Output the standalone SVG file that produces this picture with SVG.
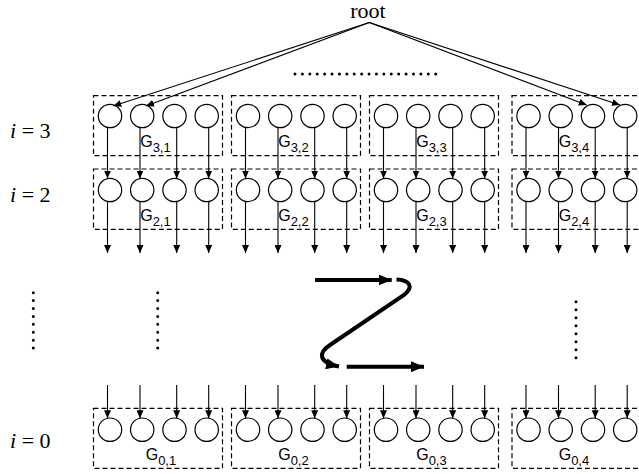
<svg xmlns="http://www.w3.org/2000/svg" width="639" height="474" viewBox="0 0 639 474">
<defs>
<marker id="ah" markerUnits="userSpaceOnUse" markerWidth="8" markerHeight="7" refX="8" refY="3.5" orient="auto"><path d="M0,0 L8,3.5 L0,7 z" fill="#000"/></marker>
<marker id="big" markerUnits="userSpaceOnUse" markerWidth="13" markerHeight="11" refX="13" refY="5.5" orient="auto"><path d="M0,0 L13,5.5 L0,11 z" fill="#000"/></marker>
<style>
.box{fill:none;stroke:#000;stroke-width:1.2;stroke-dasharray:5,3}
.c{fill:#fff;stroke:#000;stroke-width:1.2}
.ln{stroke:#000;stroke-width:1.1;fill:none;marker-end:url(#ah)}
.thick{stroke:#000;stroke-width:4;fill:none;marker-end:url(#big)}
.g{font-family:"Liberation Sans",Arial,sans-serif;font-size:16px;fill:#000}
.s{font-size:13px}
.lab{font-family:"Liberation Serif","Times New Roman",serif;font-size:22px;fill:#000}
.dots{stroke:#000;stroke-width:3;stroke-linecap:round;fill:none}
</style>
</defs>
<rect width="639" height="474" fill="#fff"/>
<text class="lab" x="368" y="18.2" text-anchor="middle" font-size="19">root</text>
<text class="lab" x="10" y="137.7"><tspan font-style="italic">i</tspan> = 3</text>
<text class="lab" x="10" y="201.7"><tspan font-style="italic">i</tspan> = 2</text>
<text class="lab" x="10" y="448.3"><tspan font-style="italic">i</tspan> = 0</text>
<g id="dots">
<line class="dots" x1="295" y1="74" x2="435.7" y2="74" stroke-dasharray="0 7.405"/>
<line class="dots" x1="33.3" y1="292.7" x2="33.3" y2="356" stroke-dasharray="0 7.9125"/>
<line class="dots" x1="157.7" y1="292.7" x2="157.7" y2="356" stroke-dasharray="0 7.9125"/>
<line class="dots" x1="576" y1="301.7" x2="576" y2="365.7" stroke-dasharray="0 8"/>
</g>
<g id="G31"><rect class="box" x="93.5" y="95.7" width="129" height="60"/><circle class="c" cx="110" cy="116" r="11.7"/><circle class="c" cx="142.2" cy="116" r="11.7"/><circle class="c" cx="174.5" cy="116" r="11.7"/><circle class="c" cx="206.7" cy="116" r="11.7"/></g>
<g id="G32"><rect class="box" x="231.5" y="95.7" width="129" height="60"/><circle class="c" cx="248" cy="116" r="11.7"/><circle class="c" cx="280.2" cy="116" r="11.7"/><circle class="c" cx="312.5" cy="116" r="11.7"/><circle class="c" cx="344.7" cy="116" r="11.7"/></g>
<g id="G33"><rect class="box" x="369.5" y="95.7" width="129" height="60"/><circle class="c" cx="386" cy="116" r="11.7"/><circle class="c" cx="418.2" cy="116" r="11.7"/><circle class="c" cx="450.5" cy="116" r="11.7"/><circle class="c" cx="482.7" cy="116" r="11.7"/></g>
<g id="G34"><rect class="box" x="512" y="95.7" width="129" height="60"/><circle class="c" cx="528.5" cy="116" r="11.7"/><circle class="c" cx="560.7" cy="116" r="11.7"/><circle class="c" cx="593" cy="116" r="11.7"/><circle class="c" cx="625.2" cy="116" r="11.7"/></g>
<g id="G21"><rect class="box" x="93.5" y="169" width="129" height="60.3"/><circle class="c" cx="110" cy="190" r="11.7"/><circle class="c" cx="142.2" cy="190" r="11.7"/><circle class="c" cx="174.5" cy="190" r="11.7"/><circle class="c" cx="206.7" cy="190" r="11.7"/></g>
<g id="G22"><rect class="box" x="231.5" y="169" width="129" height="60.3"/><circle class="c" cx="248" cy="190" r="11.7"/><circle class="c" cx="280.2" cy="190" r="11.7"/><circle class="c" cx="312.5" cy="190" r="11.7"/><circle class="c" cx="344.7" cy="190" r="11.7"/></g>
<g id="G23"><rect class="box" x="369.5" y="169" width="129" height="60.3"/><circle class="c" cx="386" cy="190" r="11.7"/><circle class="c" cx="418.2" cy="190" r="11.7"/><circle class="c" cx="450.5" cy="190" r="11.7"/><circle class="c" cx="482.7" cy="190" r="11.7"/></g>
<g id="G24"><rect class="box" x="512" y="169" width="129" height="60.3"/><circle class="c" cx="528.5" cy="190" r="11.7"/><circle class="c" cx="560.7" cy="190" r="11.7"/><circle class="c" cx="593" cy="190" r="11.7"/><circle class="c" cx="625.2" cy="190" r="11.7"/></g>
<g id="G01"><rect class="box" x="93.5" y="408.3" width="129" height="60"/><circle class="c" cx="110" cy="429.7" r="11.7"/><circle class="c" cx="142.2" cy="429.7" r="11.7"/><circle class="c" cx="174.5" cy="429.7" r="11.7"/><circle class="c" cx="206.7" cy="429.7" r="11.7"/></g>
<g id="G02"><rect class="box" x="231.5" y="408.3" width="129" height="60"/><circle class="c" cx="248" cy="429.7" r="11.7"/><circle class="c" cx="280.2" cy="429.7" r="11.7"/><circle class="c" cx="312.5" cy="429.7" r="11.7"/><circle class="c" cx="344.7" cy="429.7" r="11.7"/></g>
<g id="G03"><rect class="box" x="369.5" y="408.3" width="129" height="60"/><circle class="c" cx="386" cy="429.7" r="11.7"/><circle class="c" cx="418.2" cy="429.7" r="11.7"/><circle class="c" cx="450.5" cy="429.7" r="11.7"/><circle class="c" cx="482.7" cy="429.7" r="11.7"/></g>
<g id="G04"><rect class="box" x="512" y="408.3" width="129" height="60"/><circle class="c" cx="528.5" cy="429.7" r="11.7"/><circle class="c" cx="560.7" cy="429.7" r="11.7"/><circle class="c" cx="593" cy="429.7" r="11.7"/><circle class="c" cx="625.2" cy="429.7" r="11.7"/></g>
<g id="connectors">
<path class="ln" d="M369.3,22.5 L113.3,106"/>
<path class="ln" d="M369.3,22.5 L146,106"/>
<path class="ln" d="M369.3,22.5 L586.7,105"/>
<path class="ln" d="M369.3,22.5 L620,105"/>
<path class="ln" d="M107.5,127.5V178.6"/><path class="ln" d="M140,127.5V178.6"/><path class="ln" d="M176.7,127.5V178.6"/><path class="ln" d="M208.7,127.5V178.6"/>
<path class="ln" d="M245.5,127.5V178.6"/><path class="ln" d="M278,127.5V178.6"/><path class="ln" d="M314.7,127.5V178.6"/><path class="ln" d="M346.7,127.5V178.6"/>
<path class="ln" d="M383.5,127.5V178.6"/><path class="ln" d="M416,127.5V178.6"/><path class="ln" d="M452.7,127.5V178.6"/><path class="ln" d="M484.7,127.5V178.6"/>
<path class="ln" d="M526,127.5V178.6"/><path class="ln" d="M558.5,127.5V178.6"/><path class="ln" d="M595.2,127.5V178.6"/><path class="ln" d="M627.2,127.5V178.6"/>
<path class="ln" d="M107.5,201.5V253"/><path class="ln" d="M140,201.5V253"/><path class="ln" d="M176.7,201.5V253"/><path class="ln" d="M208.7,201.5V253"/>
<path class="ln" d="M245.5,201.5V253"/><path class="ln" d="M278,201.5V253"/><path class="ln" d="M314.7,201.5V253"/><path class="ln" d="M346.7,201.5V253"/>
<path class="ln" d="M383.5,201.5V253"/><path class="ln" d="M416,201.5V253"/><path class="ln" d="M452.7,201.5V253"/><path class="ln" d="M484.7,201.5V253"/>
<path class="ln" d="M526,201.5V253"/><path class="ln" d="M558.5,201.5V253"/><path class="ln" d="M595.2,201.5V253"/><path class="ln" d="M627.2,201.5V253"/>
<path class="ln" d="M107.5,385V418.3"/><path class="ln" d="M140,385V418.3"/><path class="ln" d="M176.7,385V418.3"/><path class="ln" d="M208.7,385V418.3"/>
<path class="ln" d="M245.5,385V418.3"/><path class="ln" d="M278,385V418.3"/><path class="ln" d="M314.7,385V418.3"/><path class="ln" d="M346.7,385V418.3"/>
<path class="ln" d="M383.5,385V418.3"/><path class="ln" d="M416,385V418.3"/><path class="ln" d="M452.7,385V418.3"/><path class="ln" d="M484.7,385V418.3"/>
<path class="ln" d="M526,385V418.3"/><path class="ln" d="M558.5,385V418.3"/><path class="ln" d="M595.2,385V418.3"/><path class="ln" d="M627.2,385V418.3"/>
<path class="thick" d="M315,280 H391.7"/>
<path class="thick" d="M396.5,279.5 C410,280 414,287 404,295 L330,345 C318,353 318,362 339,366.5"/>
<path class="thick" d="M346.7,366.7 H424"/>
</g>
<g id="labels">
<text class="g" x="140.2" y="146.7">G<tspan class="s" dy="5">3,1</tspan></text>
<text class="g" x="278.2" y="146.7">G<tspan class="s" dy="5">3,2</tspan></text>
<text class="g" x="416.2" y="146.7">G<tspan class="s" dy="5">3,3</tspan></text>
<text class="g" x="558.7" y="146.7">G<tspan class="s" dy="5">3,4</tspan></text>
<text class="g" x="140.2" y="220.7">G<tspan class="s" dy="5">2,1</tspan></text>
<text class="g" x="278.2" y="220.7">G<tspan class="s" dy="5">2,2</tspan></text>
<text class="g" x="416.2" y="220.7">G<tspan class="s" dy="5">2,3</tspan></text>
<text class="g" x="558.7" y="220.7">G<tspan class="s" dy="5">2,4</tspan></text>
<text class="g" x="145.7" y="460">G<tspan class="s" dy="5">0,1</tspan></text>
<text class="g" x="278.2" y="460">G<tspan class="s" dy="5">0,2</tspan></text>
<text class="g" x="416.2" y="460">G<tspan class="s" dy="5">0,3</tspan></text>
<text class="g" x="558.7" y="460">G<tspan class="s" dy="5">0,4</tspan></text>
</g>
</svg>
